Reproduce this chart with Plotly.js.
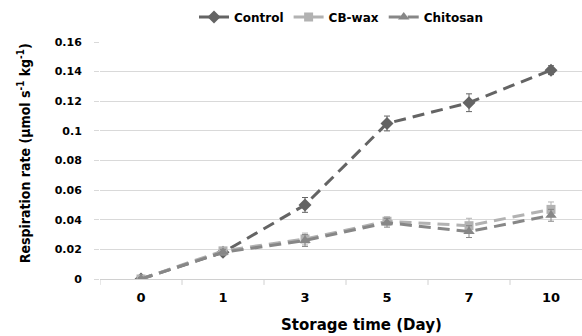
<!DOCTYPE html>
<html><head><meta charset="utf-8">
<script src="https://cdn.plot.ly/plotly-3.0.1.min.js"></script>
<style>body{margin:0;background:#fff}#c{width:582px;height:336px}</style>
</head><body><div id="c"></div>
<script>
const days = ["0","1","3","5","7","10"];
const control = [0, 0.018, 0.050, 0.105, 0.119, 0.141];
const controlErr = [0.001, 0.002, 0.005, 0.005, 0.006, 0.003];
const cbwax = [0, 0.019, 0.027, 0.039, 0.036, 0.047];
const cbwaxErr = [0.001, 0.002, 0.004, 0.003, 0.005, 0.005];
const chitosan = [0, 0.018, 0.026, 0.038, 0.032, 0.043];
const chitosanErr = [0.001, 0.002, 0.004, 0.003, 0.004, 0.004];
const yTicks = [0,0.02,0.04,0.06,0.08,0.1,0.12,0.14,0.16];
const yTickText = ['0','0.02','0.04','0.06','0.08','0.1','0.12','0.14','0.16'];

const idx = days.map((d,i)=>i);
function tr(name, y, err, color, sym, size){
  return {x: idx, y: y, name: name, type:'scatter', mode:'lines+markers',
    line:{color:color, width:3, dash:'12px,7px'},
    marker:{symbol:sym, size:size, color:color},
    error_y:{type:'data', array:err, visible:true, color:color, thickness:1, width:3}};
}
const data = [
  tr('Control', control, controlErr, '#646464', 'diamond', 10),
  tr('CB-wax', cbwax, cbwaxErr, '#b2b2b2', 'square', 9),
  tr('Chitosan', chitosan, chitosanErr, '#878787', 'triangle-up', 10)
];
const fy = {family:'DejaVu Sans', size:11, color:'#000', weight:'bold'};
const fx = {family:'DejaVu Sans', size:13, color:'#000', weight:'bold'};
const layout = {
  width:582, height:336,
  margin:{l:100, r:0, t:41.5, b:57},
  paper_bgcolor:'#fff', plot_bgcolor:'#fff',
  showlegend:true,
  legend:{orientation:'h', x:0.5, xanchor:'center', y:1.105, yanchor:'middle',
    font:{family:'DejaVu Sans', size:12, color:'#000', weight:'bold'}, itemwidth:30, tracegroupgap:0},
  xaxis:{type:'linear', range:[-0.5, 5.378], tickmode:'array', tickvals:idx, ticktext:days,
    showgrid:false, zeroline:false, showline:true, linecolor:'#d0d0d0', ticks:'', tickfont:fx,
    ticklabelstandoff:6},
  yaxis:{range:[0,0.16], tickmode:'array', tickvals:yTicks, ticktext:yTickText,
    showgrid:true, gridcolor:'#d9d9d9', zeroline:false, showline:false, tickfont:fy,
    ticks:'outside', ticklen:5, tickcolor:'#d9d9d9', ticklabelstandoff:10},
  annotations:[
    {text:'<b>Storage time (Day)</b>', xref:'paper', yref:'paper', x:(361-100)/482, y:-(325-279)/237.5,
     xanchor:'center', yanchor:'middle', showarrow:false, font:{family:'DejaVu Sans', size:15, color:'#000'}},
    {text:'<b>Respiration rate (μmol s<sup>-1</sup> kg<sup>-1</sup>)</b>', xref:'paper', yref:'paper',
     x:-(100-24)/482, y:(279-153)/237.5, xanchor:'center', yanchor:'middle', textangle:-90, showarrow:false,
     font:{family:'DejaVu Sans Condensed, DejaVu Sans', size:14, color:'#000'}}
  ],
  shapes: [-0.5,0.5,1.5,2.5,3.5,4.5].map(v=>({type:'line', xref:'x', yref:'paper', x0:v, x1:v, y0:0, y1:-0.025, line:{color:'#d0d0d0', width:1}}))
};
Plotly.newPlot('c', data, layout, {displayModeBar:false, staticPlot:true});
</script></body></html>
